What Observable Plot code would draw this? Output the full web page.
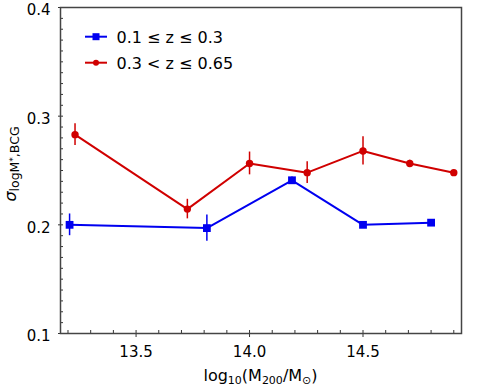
<!DOCTYPE html>
<html><head><meta charset="utf-8">
<script src="https://cdn.jsdelivr.net/npm/d3@7"></script>
<script src="https://cdn.jsdelivr.net/npm/@observablehq/plot@0.6"></script>
<style>body{margin:0;background:#fff}</style>
</head><body><div id="chart"></div>
<script>
// Low-z sample (0.1 ≤ z ≤ 0.3)
const lowZMass  = [13.207, 13.812, 14.187, 14.5, 14.8];
const lowZSigma = [0.200, 0.197, 0.241, 0.200, 0.202];
const lowZErr   = [0.010, 0.012, 0.003, 0.002, 0.002];
// High-z sample (0.3 < z ≤ 0.65)
const highZMass  = [13.231, 13.726, 14.0, 14.254, 14.5, 14.706, 14.9];
const highZSigma = [0.283, 0.2145, 0.2565, 0.248, 0.268, 0.2565, 0.248];
const highZErr   = [0.010, 0.009, 0.0105, 0.010, 0.013, 0.003, 0.002];

const seriesLabels = ["0.1 ≤ z ≤ 0.3", "0.3 < z ≤ 0.65"];
const seriesColors = ["#0000f0", "#d00000"];
const xMajorTicks = [13.5, 14.0, 14.5];
const xMinorTicks = [13.2,13.3,13.4,13.6,13.7,13.8,13.9,14.1,14.2,14.3,14.4,14.6,14.7,14.8,14.9];
const yMajorTicks = [0.1, 0.2, 0.3, 0.4];
const yMinorTicks = [0.11,0.12,0.13,0.14,0.15,0.16,0.17,0.18,0.19,0.21,0.22,0.23,0.24,0.25,0.26,0.27,0.28,0.29,0.31,0.32,0.33,0.34,0.35,0.36,0.37,0.38,0.39];

const low = lowZMass.map((m, i) => ({m, s: lowZSigma[i], e: lowZErr[i]}));
const high = highZMass.map((m, i) => ({m, s: highZSigma[i], e: highZErr[i]}));

const W = 481, H = 387, mL = 60, mR = 20, mT = 7, mB = 54;
const pw = W - mL - mR, ph = H - mT - mB;
const font = "DejaVu Sans, sans-serif";

const svg = Plot.plot({
  width: W, height: H,
  marginLeft: mL, marginRight: mR, marginTop: mT, marginBottom: mB,
  style: {fontFamily: font, fontSize: "15px", color: "#000", background: "#fff"},
  x: {domain: [13.167, 14.934], label: null},
  y: {domain: [0.1, 0.4], label: null},
  marks: [
    Plot.axisX({ticks: xMajorTicks, tickSize: 0, tickPadding: 13, tickFormat: d3.format(".1f")}),
    Plot.axisY({ticks: yMajorTicks, tickSize: 0, tickPadding: 10, tickFormat: d3.format(".1f"), dy: 3}),
    Plot.tickY(yMinorTicks, {y: d => d, insetRight: pw - 3, stroke: "#333", strokeWidth: 1}),
    Plot.tickY(yMajorTicks, {y: d => d, insetRight: pw - 3, insetLeft: -2, stroke: "#333", strokeWidth: 1}),
    Plot.tickX(xMinorTicks, {x: d => d, insetTop: ph - 3, stroke: "#333", strokeWidth: 1}),
    Plot.tickX(xMajorTicks, {x: d => d, insetTop: ph - 3, insetBottom: -4, stroke: "#333", strokeWidth: 1}),
    Plot.frame({stroke: "#444", strokeWidth: 1.5}),
    // low z
    Plot.ruleX(low, {x: "m", y1: d => d.s - d.e, y2: d => d.s + d.e, stroke: seriesColors[0], strokeWidth: 1.5}),
    Plot.line(low, {x: "m", y: "s", stroke: seriesColors[0], strokeWidth: 2}),
    Plot.dot(low, {x: "m", y: "s", symbol: "square", r: 4.4, fill: seriesColors[0], stroke: "none"}),
    // high z
    Plot.ruleX(high, {x: "m", y1: d => d.s - d.e, y2: d => d.s + d.e, stroke: seriesColors[1], strokeWidth: 1.5}),
    Plot.line(high, {x: "m", y: "s", stroke: seriesColors[1], strokeWidth: 2}),
    Plot.dot(high, {x: "m", y: "s", r: 3.7, fill: seriesColors[1], stroke: "none"})
  ]
});

const s = d3.select(svg);
// legend
const legY = [36.7, 62.7];
seriesLabels.forEach((lab, i) => {
  const g = s.append("g");
  g.append("line").attr("x1", 85).attr("x2", 107).attr("y1", legY[i]).attr("y2", legY[i])
    .attr("stroke", seriesColors[i]).attr("stroke-width", 2);
  if (i === 0) g.append("rect").attr("x", 92.5).attr("y", legY[i] - 3.5).attr("width", 7).attr("height", 7).attr("fill", seriesColors[i]);
  else g.append("circle").attr("cx", 96).attr("cy", legY[i]).attr("r", 3).attr("fill", seriesColors[i]);
  g.append("text").attr("x", 116.5).attr("y", legY[i] + 6).attr("font-size", 16).attr("font-family", font)
    .attr("text-anchor", "start").attr("fill", "#000").text(lab);
});
// x label
const xl = s.append("text").attr("x", 260.5).attr("y", 381).attr("text-anchor", "middle")
  .attr("font-size", 16).attr("font-family", font).attr("fill", "#000");
xl.append("tspan").text("log");
xl.append("tspan").attr("font-size", 11).attr("dy", 3).text("10");
xl.append("tspan").attr("dy", -3).text("(M");
xl.append("tspan").attr("font-size", 11).attr("dy", 3).text("200");
xl.append("tspan").attr("dy", -3).text("/M");
xl.append("tspan").attr("font-size", 11).attr("dy", 3).text("⊙");
xl.append("tspan").attr("dy", -3).text(")");
// y label
const yl = s.append("text").attr("transform", "translate(16,164) rotate(-90)").attr("text-anchor", "middle")
  .attr("font-family", font).attr("fill", "#000");
yl.append("tspan").attr("font-size", 16).attr("font-style", "italic").text("σ");
yl.append("tspan").attr("font-size", 12.5).attr("dy", 3).text("logM");
yl.append("tspan").attr("font-size", 9).attr("dy", -3).text("*");
yl.append("tspan").attr("font-size", 12.5).attr("dy", 3).text(",BCG");

document.getElementById("chart").appendChild(svg);
</script>
</body></html>
